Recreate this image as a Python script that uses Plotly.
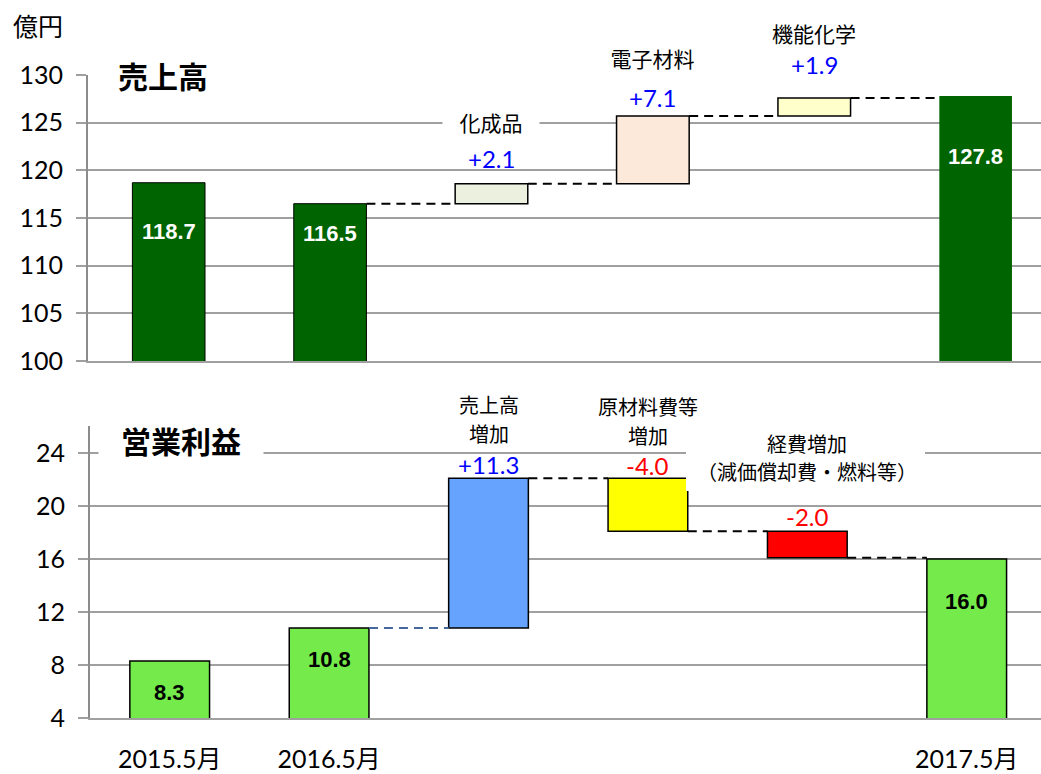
import plotly.graph_objects as go

# ---------------- data ----------------
categories = ["2015.5月", "2016.5月", "化成品", "電子材料", "機能化学", "2017.5月"]
sales_start = [118.7, 116.5]
sales_steps = [2.1, 7.1, 1.9]
sales_end = 127.8
sales_step_names = ["化成品", "電子材料", "機能化学"]

profit_start = [8.3, 10.8]
profit_steps = [11.3, -4.0, -2.0]
profit_end = 16.0
profit_step_names = [["売上高", "増加"], ["原材料費等", "増加"], ["経費増加", "（減価償却費・燃料等）"]]

sales_yticks = [100, 105, 110, 115, 120, 125, 130]
profit_yticks = [4, 8, 12, 16, 20, 24]
x_tick_labels = ["2015.5月", "2016.5月", "", "", "", "2017.5月"]

# ---------------- styles ----------------
H = 774.0
WD = 1041.0
JP = "Noto Sans CJK JP"
NUM = "Lato, Noto Sans CJK JP, sans-serif"
BOLDNUM = "Liberation Sans, Arial, sans-serif"
GRID = "#A0A0A0"
AXIS = "#8C8C8C"
W_TOP = 0.45
W_BOT = 0.5


def py(px):
    return 1 - px / H


def waterfall(start, steps, end):
    vals, bases = [], []
    for v in start:
        vals.append(v); bases.append(0)
    cum = start[-1]
    for s in steps:
        vals.append(s); bases.append(cum); cum += s
    vals.append(end); bases.append(0)
    return vals, bases


xs = list(range(len(categories)))
s_vals, s_bases = waterfall(sales_start, sales_steps, sales_end)
p_vals, p_bases = waterfall(profit_start, profit_steps, profit_end)

fig = go.Figure()

# top bars
fig.add_trace(go.Bar(
    x=xs, y=s_vals, base=s_bases, width=W_TOP,
    marker=dict(color=["#006400", "#006400", "#EBF1DE", "#FDE9D9", "#FFFFCC", "#006400"],
                line=dict(color="black", width=[1, 1, 1.5, 1.5, 1.5, 0])),
    xaxis="x", yaxis="y", hoverinfo="skip"))

# bottom bars
fig.add_trace(go.Bar(
    x=xs, y=p_vals, base=p_bases, width=W_BOT,
    marker=dict(color=["#74EB4A", "#74EB4A", "#66A3FF", "#FFFF00", "#FF0000", "#74EB4A"],
                line=dict(color="black", width=1.5)),
    xaxis="x2", yaxis="y2", hoverinfo="skip"))


def connectors(start, steps, w):
    levels = [start[-1]]
    for s in steps:
        levels.append(levels[-1] + s)
    first = len(start) - 1
    return [([first + k + w / 2, first + k + 1 - w / 2], [lv, lv]) for k, lv in enumerate(levels)]


# top connectors
cx, cy = [], []
for xx, yy in connectors(sales_start, sales_steps, W_TOP):
    cx += xx + [None]; cy += yy + [None]
fig.add_trace(go.Scatter(x=cx, y=cy, mode="lines", xaxis="x", yaxis="y",
                         line=dict(color="black", width=2, dash="9px,6px"), hoverinfo="skip"))

# bottom connectors
segs = connectors(profit_start, profit_steps, W_BOT)
fig.add_trace(go.Scatter(x=segs[0][0], y=segs[0][1], mode="lines", xaxis="x2", yaxis="y2",
                         line=dict(color="#44689C", width=2, dash="9px,6px"), hoverinfo="skip"))
cx, cy = [], []
for xx, yy in segs[1:]:
    cx += xx + [None]; cy += yy + [None]
fig.add_trace(go.Scatter(x=cx, y=cy, mode="lines", xaxis="x2", yaxis="y2",
                         line=dict(color="black", width=2, dash="9px,6px"), hoverinfo="skip"))

ann = []

# total value labels
tot_idx = [0, 1, 5]
top_tot_shift = [-49, -30, -61]
for i, sh in zip(tot_idx, top_tot_shift):
    ann.append(dict(x=i, y=s_vals[i], xref="x", yref="y", yshift=sh, showarrow=False,
                    text=f"<b>{s_vals[i]:.1f}</b>", font=dict(family=BOLDNUM, size=22, color="white")))
bot_tot_shift = [-31, -32, -42]
for i, sh in zip(tot_idx, bot_tot_shift):
    ann.append(dict(x=i, y=p_vals[i], xref="x2", yref="y2", yshift=sh, showarrow=False,
                    text=f"<b>{p_vals[i]:.1f}</b>", font=dict(family=BOLDNUM, size=22, color="black")))

# step value labels
cum = sales_start[-1]
top_step_shift = [25, 18, 33]
for k, s in enumerate(sales_steps):
    cum += s
    ann.append(dict(x=2 + k, y=cum, xref="x", yref="y", yshift=top_step_shift[k], showarrow=False,
                    text=f"{s:+.1f}", font=dict(family=NUM, size=24, color="#0000FF")))
cum = profit_start[-1]
bot_step_shift = [14, 13, 15]
for k, s in enumerate(profit_steps):
    top = max(cum, cum + s)
    cum += s
    ann.append(dict(x=2 + k, y=top, xref="x2", yref="y2", yshift=bot_step_shift[k], showarrow=False,
                    text=f"{s:+.1f}" if s > 0 else f"{s:.1f}",
                    font=dict(family=NUM, size=24, color="#0000FF" if s > 0 else "#FF0000")))

MID = dict(xanchor="center", yanchor="middle", showarrow=False)

# step names (top)
ann.append(dict(x=2, y=py(122), xref="x", yref="paper", text=sales_step_names[0],
                font=dict(family=JP, size=21, color="black"), bgcolor="white", width=94, height=24, **MID))
ann.append(dict(x=3, y=py(58), xref="x", yref="paper", text=sales_step_names[1],
                font=dict(family=JP, size=21, color="black"), bgcolor="white", width=115, height=36, **MID))
ann.append(dict(x=4, y=py(33), xref="x", yref="paper", text=sales_step_names[2],
                font=dict(family=JP, size=21, color="black"), **MID))

# step names (bottom), one annotation per line
line_rows = [(404, 433), (406, 435), (443, 471)]
for k, (lines, rows) in enumerate(zip(profit_step_names, line_rows)):
    for txt, row in zip(lines, rows):
        ann.append(dict(x=2 + k, y=py(row), xref="x2", yref="paper", text=txt,
                        font=dict(family=JP, size=20, color="black"), **MID))

# panel titles
ann.append(dict(x=163 / WD, y=py(75), xref="paper", yref="paper", text="<b>売上高</b>",
                font=dict(family=JP, size=30, color="black"), bgcolor="white", width=128, height=44, **MID))
ann.append(dict(x=181 / WD, y=py(440), xref="paper", yref="paper", text="<b>営業利益</b>",
                font=dict(family=JP, size=30, color="black"), bgcolor="white", width=162, height=46, **MID))

# unit
ann.append(dict(x=38 / WD, y=py(25), xref="paper", yref="paper", text="億円",
                font=dict(family=JP, size=25, color="black"), **MID))

# white backing behind the 経費増加 label (covers gridline like the original)
shapes = [dict(type="rect", xref="paper", yref="paper", x0=686 / WD, x1=925 / WD,
               y0=py(491), y1=py(427), fillcolor="white", line=dict(width=0), layer="above")]

yaxis_common = dict(showgrid=True, gridcolor=GRID, gridwidth=1.5, showline=True, linecolor=AXIS,
                    linewidth=2, ticks="outside", ticklen=10, tickwidth=1.5, tickcolor=GRID,
                    tickfont=dict(family=NUM, size=25, color="black"), ticklabelstandoff=8,
                    zeroline=False, fixedrange=True, automargin=False)

fig.update_layout(
    width=1041, height=774, margin=dict(l=0, r=0, t=0, b=0, autoexpand=False),
    paper_bgcolor="white", plot_bgcolor="white", showlegend=False, barmode="overlay",
    xaxis=dict(domain=[88 / WD, 1], range=[-0.5, 5.405], showticklabels=False, showgrid=False,
               showline=True, linecolor=GRID, linewidth=2, zeroline=False, anchor="y",
               automargin=False, fixedrange=True),
    yaxis=dict(domain=[py(361), py(75)], range=[100, 130], tickvals=sales_yticks, anchor="x",
               **yaxis_common),
    xaxis2=dict(domain=[90 / WD, 1], range=[-0.5, 5.466], tickvals=xs, ticktext=x_tick_labels,
                tickfont=dict(family=NUM, size=25, color="black"), ticks="", showgrid=False,
                showline=True, linecolor=GRID, linewidth=2, zeroline=False, anchor="y2",
                ticklabelstandoff=18, automargin=False, fixedrange=True),
    yaxis2=dict(domain=[py(718), py(426)], range=[4, 26.04], tickvals=profit_yticks, anchor="x2",
                **yaxis_common),
    annotations=ann,
    shapes=shapes,
)

fig.write_html("out.html", config={"displayModeBar": False},
               post_script="document.body.style.margin='0';document.body.style.overflow='hidden';")
